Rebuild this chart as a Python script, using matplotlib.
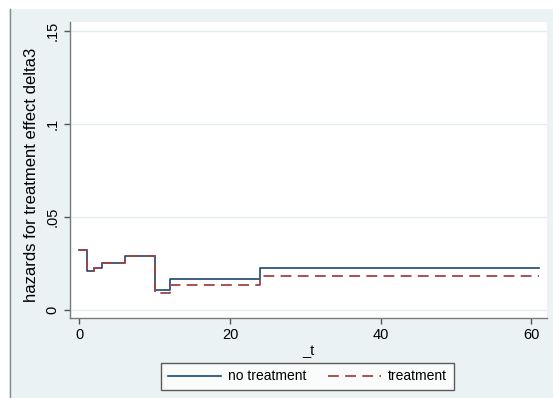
import matplotlib
matplotlib.use("Agg")
import matplotlib.pyplot as plt
from matplotlib.patches import Rectangle

plt.rcParams['font.family'] = ['Liberation Sans', 'DejaVu Sans']

# Data (step function, value holds from t until next t)
t = [0, 1, 2, 3, 6, 10, 12, 24, 61]
no_treatment = [0.0320, 0.0210, 0.0228, 0.0250, 0.0290, 0.0108, 0.0167, 0.0228, 0.0228]
treatment = [0.0320, 0.0210, 0.0228, 0.0250, 0.0290, 0.0090, 0.0136, 0.0183, 0.0183]
xticks = [0, 20, 40, 60]
yticks = [0, 0.05, 0.1, 0.15]
ytick_labels = ['0', '.05', '.1', '.15']

W, H = 553, 398
fig = plt.figure(figsize=(W / 100, H / 100), dpi=100)
fig.patch.set_facecolor('white')
bg = '#EAF2F3'
fig.patches.append(Rectangle((9 / W, 0), 1 - 9 / W, 1 - 9 / H, transform=fig.transFigure,
                             facecolor=bg, edgecolor='none', zorder=-10))
fig.lines.append(plt.Line2D([9.5 / W, 9.5 / W], [0, 1 - 9 / H], transform=fig.transFigure,
                            color='#8a8a8a', lw=1.0, zorder=-9))

ax = fig.add_axes([70 / W, (H - 318) / H, (547 - 70) / W, (318 - 22) / H])
ax.set_facecolor('white')

ax.step(t, no_treatment, where='post', color='#1a476f', lw=1.2, label='no treatment', zorder=3)
ax.step(t, treatment, where='post', color='#a0434a', lw=1.3, ls=(0, (6, 3.5)), label='treatment', zorder=4)

ax.set_xlim(-1.24, 62.1)
ax.set_ylim(-0.0043, 0.1548)
ax.set_xticks(xticks)
ax.set_yticks(yticks)
ax.set_yticklabels(ytick_labels, rotation=90, va='center')
ax.grid(axis='y', color='#E3ECEE', lw=1.0)
ax.set_axisbelow(True)

for s in ['top', 'right']:
    ax.spines[s].set_visible(False)
for s in ['left', 'bottom']:
    ax.spines[s].set_color('#7a7a7a')
    ax.spines[s].set_linewidth(1.0)
ax.tick_params(axis='both', length=4.5, width=1.0, color='#555555', labelsize=10.5, pad=3)

ax.set_xlabel('_t', fontsize=10.5, labelpad=1)
ax.xaxis.set_label_coords(0.5, (318 - 358) / 296, transform=ax.transAxes)
ax.xaxis.label.set_va('bottom')
ax.set_ylabel('hazards for treatment effect delta3', fontsize=12)
ax.yaxis.set_label_coords((31.5 - 70) / 477, 0.483)
ax.yaxis.label.set_va('center')

leg = fig.legend(loc='center', bbox_to_anchor=(307.5 / W, 21.5 / H), ncol=2,
                 frameon=True, fancybox=False, fontsize=10, handlelength=3.8,
                 columnspacing=1.6, borderpad=0.5, handletextpad=0.5)
leg.get_frame().set_edgecolor('#333333')
leg.get_frame().set_linewidth(1.0)
leg.get_frame().set_facecolor('white')

fig.savefig('out.png', dpi=100, facecolor=fig.get_facecolor())
